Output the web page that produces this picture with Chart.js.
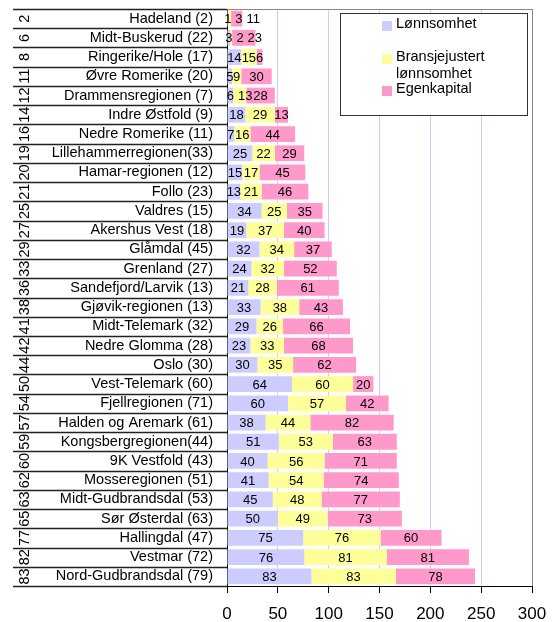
<!DOCTYPE html>
<html>
<head>
<meta charset="utf-8">
<script src="https://cdn.jsdelivr.net/npm/chart.js@4.4.1/dist/chart.umd.min.js"></script>
<style>
  html, body { margin: 0; padding: 0; background: #fff; }
  canvas { display: block; }
</style>
</head>
<body>
<canvas id="chart" width="552" height="622"></canvas>
<script>
const regions = ['Hadeland (2)', 'Midt-Buskerud (22)', 'Ringerike/Hole (17)', 'Øvre Romerike (20)',
  'Drammensregionen (7)', 'Indre Østfold (9)', 'Nedre Romerike (11)', 'Lillehammerregionen(33)',
  'Hamar-regionen (12)', 'Follo (23)', 'Valdres (15)', 'Akershus Vest (18)', 'Glåmdal (45)',
  'Grenland (27)', 'Sandefjord/Larvik (13)', 'Gjøvik-regionen (13)', 'Midt-Telemark (32)',
  'Nedre Glomma (28)', 'Oslo (30)', 'Vest-Telemark (60)', 'Fjellregionen (71)',
  'Halden og Aremark (61)', 'Kongsbergregionen(44)', '9K Vestfold (43)', 'Mosseregionen (51)',
  'Midt-Gudbrandsdal (53)', 'Sør Østerdal (63)', 'Hallingdal (47)', 'Vestmar (72)',
  'Nord-Gudbrandsdal (79)'];
const ranks = [2, 6, 8, 11, 12, 14, 16, 19, 20, 21, 25, 27, 29, 33, 36, 38, 41, 42, 44, 50,
  54, 57, 59, 60, 62, 63, 65, 77, 82, 83];
const lonnsomhet = [1, 3, 14, 5, 6, 18, 7, 25, 15, 13, 34, 19, 32, 24, 21, 33, 29, 23, 30, 64,
  60, 38, 51, 40, 41, 45, 50, 75, 76, 83];
const bransjejustert = [3, 2, 15, 9, 13, 29, 16, 22, 17, 21, 25, 37, 34, 32, 28, 38, 26, 33, 35, 60,
  57, 44, 53, 56, 54, 48, 49, 76, 81, 83];
const egenkapital = [11, 23, 6, 30, 28, 13, 44, 29, 45, 46, 35, 40, 37, 52, 61, 43, 66, 68, 62, 20,
  42, 82, 63, 71, 74, 77, 73, 60, 81, 78];
const xMax = 300;
const xStep = 50;

const blueColor = '#ccccff';
const yellowColor = '#ffff99';
const pinkColor = '#ff99cc';
const gridColor = '#ccccff';
const frameColor = '#888888';
const fontFamily = '"Liberation Sans", Arial, sans-serif';

// numbers in rotated column + row separators on the left
const sideColumn = {
    id: 'sideColumn',
    afterDraw(chart) {
        const ctx = chart.ctx;
        const y = chart.scales.y;
        const area = chart.chartArea;
        const step = y.getPixelForValue(1) - y.getPixelForValue(0);
        ctx.save();
        ctx.strokeStyle = '#222';
        ctx.lineWidth = 1.5;
        for (var i = 0; i <= regions.length; ++i) {
            var yy = Math.round(y.getPixelForValue(i) - step / 2) + 0.5;
            ctx.beginPath();
            ctx.moveTo(13, yy);
            ctx.lineTo(area.left, yy);
            ctx.stroke();
        }
        // grey frame top / right
        ctx.strokeStyle = frameColor;
        ctx.lineWidth = 1;
        ctx.beginPath();
        ctx.moveTo(area.left, area.top + 0.5);
        ctx.lineTo(area.right + 0.5, area.top + 0.5);
        ctx.lineTo(area.right + 0.5, area.bottom);
        ctx.stroke();

        ctx.fillStyle = '#000';
        ctx.font = '14.5px ' + fontFamily;
        ctx.textAlign = 'center';
        ctx.textBaseline = 'middle';
        for (var i = 0; i < ranks.length; ++i) {
            ctx.save();
            ctx.translate(25, y.getPixelForValue(i));
            ctx.rotate(-Math.PI / 2);
            ctx.fillText(String(ranks[i]), 0, 0);
            ctx.restore();
        }
        ctx.restore();
    }
};

// value labels inside each segment, pushed right when they collide
const segmentLabels = {
    id: 'segmentLabels',
    afterDatasetsDraw(chart) {
        const ctx = chart.ctx;
        ctx.save();
        ctx.font = '13px ' + fontFamily;
        ctx.fillStyle = '#000';
        ctx.textAlign = 'left';
        ctx.textBaseline = 'middle';
        for (var i = 0; i < regions.length; ++i) {
            var lastRight = -Infinity;
            chart.data.datasets.forEach(function(ds, d) {
                var bar = chart.getDatasetMeta(d).data[i];
                var text = String(ds.data[i]);
                var w = ctx.measureText(text).width;
                var left = (bar.x + bar.base) / 2 - w / 2;
                if (left < lastRight - 1) {
                    left = lastRight + 4;
                }
                ctx.fillText(text, left, bar.y + 1);
                lastRight = left + w;
            });
        }
        ctx.restore();
    }
};

// boxed legend, top right
const boxLegend = {
    id: 'boxLegend',
    afterDraw(chart) {
        const ctx = chart.ctx;
        const entries = [
            { dataset: 0, lines: ['Lønnsomhet'], y: 24 },
            { dataset: 1, lines: ['Bransjejustert', 'lønnsomhet'], y: 57 },
            { dataset: 2, lines: ['Egenkapital'], y: 89 },
        ];
        ctx.save();
        ctx.fillStyle = '#fff';
        ctx.fillRect(340, 13, 187, 102);
        ctx.strokeStyle = '#333';
        ctx.lineWidth = 1;
        ctx.strokeRect(340.5, 13.5, 187, 102);
        ctx.font = '14.5px ' + fontFamily;
        ctx.textAlign = 'left';
        ctx.textBaseline = 'middle';
        entries.forEach(function(e) {
            ctx.fillStyle = chart.data.datasets[e.dataset].backgroundColor;
            ctx.fillRect(382, e.y - 3, 10, 10);
            ctx.fillStyle = '#000';
            e.lines.forEach(function(line, k) {
                ctx.fillText(line, 396, e.y + k * 17);
            });
        });
        ctx.restore();
    }
};

new Chart(document.getElementById('chart'), {
    type: 'bar',
    data: {
        labels: regions,
        datasets: [
            { label: 'Lønnsomhet', data: lonnsomhet, backgroundColor: blueColor },
            { label: 'Bransjejustert lønnsomhet', data: bransjejustert, backgroundColor: yellowColor },
            { label: 'Egenkapital', data: egenkapital, backgroundColor: pinkColor },
        ]
    },
    options: {
        indexAxis: 'y',
        responsive: false,
        animation: false,
        devicePixelRatio: 1,
        categoryPercentage: 0.82,
        barPercentage: 1,
        layout: { padding: { top: 9, right: 20, left: 0, bottom: 0 } },
        plugins: {
            legend: { display: false },
            tooltip: { enabled: false }
        },
        scales: {
            x: {
                stacked: true,
                min: 0,
                max: xMax,
                afterFit: function(scale) {
                    scale.height = 36;
                    scale.paddingLeft = 0;
                    scale.paddingRight = 0;
                },
                ticks: {
                    stepSize: xStep,
                    color: '#000',
                    padding: 11,
                    maxRotation: 0,
                    font: { family: fontFamily, size: 17 }
                },
                grid: {
                    color: function(c) { return c.tick && c.tick.value === xMax ? frameColor : gridColor; },
                    tickColor: '#000',
                    tickLength: 7,
                    lineWidth: 1
                },
                border: { color: '#000', width: 1 }
            },
            y: {
                stacked: true,
                afterFit: function(scale) {
                    scale.width = 227;
                    scale.paddingTop = 0;
                    scale.paddingBottom = 0;
                },
                ticks: {
                    color: '#000',
                    padding: 14,
                    autoSkip: false,
                    font: { family: fontFamily, size: 14.5 }
                },
                grid: { display: false, drawTicks: false },
                border: { color: '#000', width: 1 }
            }
        }
    },
    plugins: [segmentLabels, sideColumn, boxLegend]
});
</script>
</body>
</html>
